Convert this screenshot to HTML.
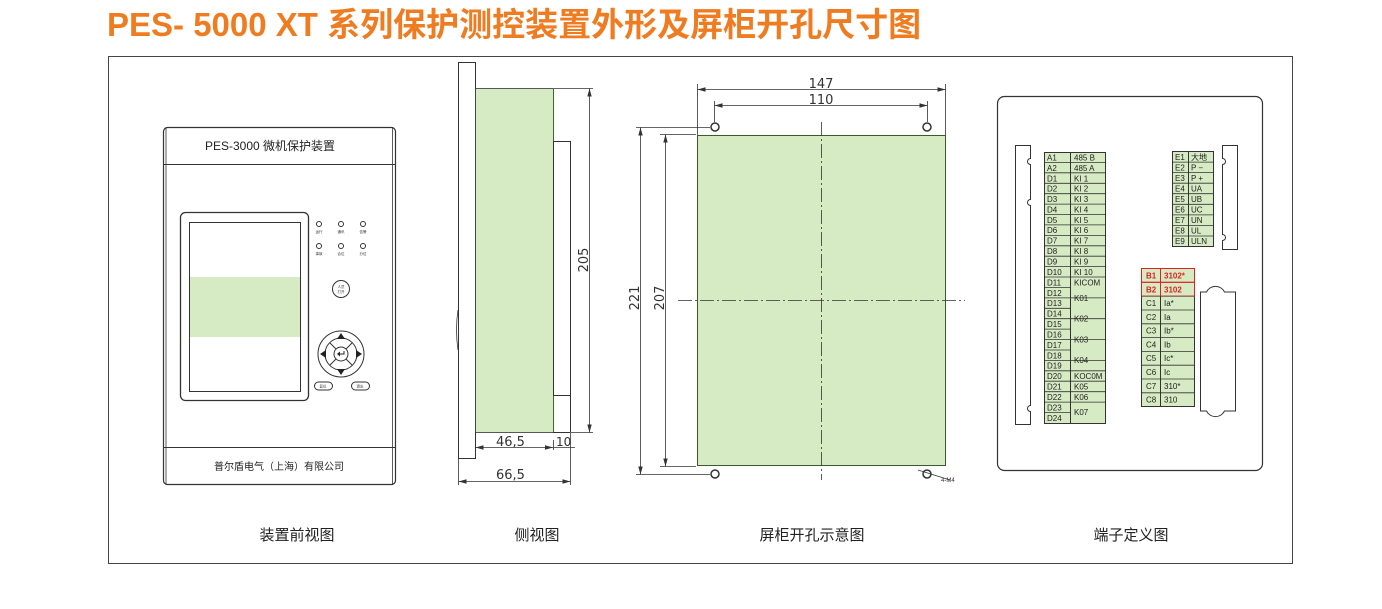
<!DOCTYPE html>
<html><head><meta charset="utf-8"><style>
html,body{margin:0;padding:0;background:#fff;}
body{width:1382px;height:609px;overflow:hidden;position:relative;}
svg{position:absolute;left:0;top:0;}
.t{font-family:"Liberation Sans","Noto Sans CJK SC",sans-serif;}
</style></head><body>
<svg width="1382" height="609" viewBox="0 0 1382 609" xmlns="http://www.w3.org/2000/svg" class="t">
<defs>
<marker id="ar" markerWidth="8" markerHeight="6" refX="8" refY="3" orient="auto-start-reverse" markerUnits="userSpaceOnUse"><path d="M0,0.8 L8,3 L0,5.2z" fill="#333"/></marker>
</defs>
<text x="107" y="36" font-size="33" font-weight="bold" fill="#f07c22" font-family="'Liberation Sans','Noto Sans CJK SC',sans-serif">PES- 5000 XT 系列保护测控装置外形及屏柜开孔尺寸图</text>
<rect x="108.5" y="56.5" width="1184" height="507" fill="none" stroke="#444" stroke-width="1"/>

<!-- FRONT VIEW -->
<rect x="163.5" y="127.5" width="232" height="357" rx="4" fill="#fff" stroke="#333" stroke-width="1.2"/>
<line x1="166" y1="127.5" x2="166" y2="484" stroke="#333" stroke-width="0.8"/>
<line x1="392.5" y1="127.5" x2="392.5" y2="484" stroke="#333" stroke-width="0.8"/>
<line x1="164" y1="164.5" x2="395" y2="164.5" stroke="#333"/>
<line x1="164" y1="447.5" x2="395" y2="447.5" stroke="#333"/>
<text x="270" y="150" font-size="12" text-anchor="middle" fill="#222">PES-3000 微机保护装置</text>
<text x="279" y="470" font-size="10" text-anchor="middle" fill="#222">普尔盾电气（上海）有限公司</text>
<rect x="180.5" y="212.5" width="128" height="188" rx="5" fill="#fff" stroke="#333" stroke-width="1.3"/>
<rect x="189.5" y="222.5" width="111" height="169" fill="#fff" stroke="#333" stroke-width="1"/>
<rect x="190" y="277" width="110" height="60" fill="#d6eac3"/>
<g fill="none" stroke="#333" stroke-width="1">
<circle cx="319" cy="224" r="2.5"/><circle cx="341" cy="224" r="2.5"/><circle cx="363" cy="224" r="2.5"/>
<circle cx="319" cy="246" r="2.5"/><circle cx="341" cy="246" r="2.5"/><circle cx="363" cy="246" r="2.5"/>
<circle cx="341" cy="289" r="8.5"/>
<circle cx="341" cy="354" r="23"/><circle cx="341" cy="354" r="7"/>
<circle cx="341" cy="354" r="16"/>
<line x1="330" y1="343" x2="336" y2="349"/><line x1="352" y1="343" x2="346" y2="349"/>
<line x1="330" y1="365" x2="336" y2="359"/><line x1="352" y1="365" x2="346" y2="359"/>
<rect x="314.5" y="382" width="18" height="8" rx="4"/><rect x="351.5" y="382" width="18" height="8" rx="4"/>
</g>
<g fill="#222"><path d="M341,333 l-4,6 h8z"/><path d="M341,375 l-4,-6 h8z"/><path d="M320,354 l6,-4 v8z"/><path d="M362,354 l-6,-4 v8z"/><path d="M337,354 l3,-2.5 v5z"/><path d="M340,354 h4 v-3" stroke="#222" fill="none"/></g>
<g font-size="3.5" fill="#333" text-anchor="middle">
<text x="319" y="233">运行</text><text x="341" y="233">通讯</text><text x="363" y="233">告警</text>
<text x="319" y="255">事故</text><text x="341" y="255">合位</text><text x="363" y="255">分位</text>
<text x="341" y="288">人员</text><text x="341" y="293">打开</text>
<text x="323" y="387.5">复位</text><text x="360" y="387.5">退出</text>
</g>

<!-- SIDE VIEW -->
<rect x="458.5" y="62.5" width="17" height="396" fill="#fff" stroke="#333"/>
<rect x="475.5" y="88.5" width="78" height="344" fill="#d6eac3" stroke="#333" stroke-width="0.8"/>
<line x1="553.5" y1="88.5" x2="553.5" y2="432.5" stroke="#3d6b2b"/>
<rect x="553.5" y="141.5" width="17" height="254" fill="#fff" stroke="#333"/>
<line x1="570.5" y1="395" x2="570.5" y2="432.5" stroke="#333"/>
<line x1="553" y1="432.5" x2="570.5" y2="432.5" stroke="#333"/>
<path d="M458,310 q-3,20 0,40" fill="none" stroke="#333" stroke-width="0.8"/>
<g stroke="#333" stroke-width="0.8" fill="none">
<line x1="554" y1="88.5" x2="593" y2="88.5"/><line x1="571" y1="432.5" x2="593" y2="432.5"/>
<line x1="589.5" y1="88.5" x2="589.5" y2="432.5" marker-start="url(#ar)" marker-end="url(#ar)"/>
<line x1="475.5" y1="433" x2="475.5" y2="450"/><line x1="570.5" y1="433" x2="570.5" y2="485"/><line x1="458.5" y1="459" x2="458.5" y2="485"/>
<line x1="475.5" y1="447.5" x2="553" y2="447.5" marker-start="url(#ar)" marker-end="url(#ar)"/>
<line x1="553.5" y1="440" x2="553.5" y2="450"/>
<line x1="553.5" y1="447.5" x2="575" y2="447.5"/>
<line x1="458.5" y1="481.5" x2="570.5" y2="481.5" marker-start="url(#ar)" marker-end="url(#ar)"/>
</g>
<g font-size="13" fill="#333" font-family="'DejaVu Sans',sans-serif">
<text x="496" y="446">46,5</text><text x="556" y="446" font-size="12">10</text><text x="496" y="479">66,5</text>
<text transform="translate(588,260) rotate(-90)" text-anchor="middle" font-size="13">205</text>
</g>

<!-- PANEL CUTOUT -->
<rect x="697.5" y="135.5" width="248" height="330" fill="#d6eac3" stroke="#3d5a2b" stroke-width="1"/>
<g stroke="#333" stroke-width="0.8" fill="none">
<line x1="821.5" y1="122" x2="821.5" y2="480" stroke-dasharray="14,3,2,3"/>
<line x1="678" y1="300.5" x2="965" y2="300.5" stroke-dasharray="14,3,2,3"/>
<line x1="697.5" y1="84" x2="697.5" y2="135"/><line x1="945.5" y1="84" x2="945.5" y2="135"/>
<line x1="697.5" y1="89.5" x2="945.5" y2="89.5" marker-start="url(#ar)" marker-end="url(#ar)"/>
<line x1="714.5" y1="101" x2="714.5" y2="122"/><line x1="927.5" y1="101" x2="927.5" y2="122"/>
<line x1="714.5" y1="105.5" x2="927.5" y2="105.5" marker-start="url(#ar)" marker-end="url(#ar)"/>
<line x1="636" y1="127.5" x2="710" y2="127.5"/><line x1="636" y1="474.5" x2="710" y2="474.5"/>
<line x1="640.5" y1="127.5" x2="640.5" y2="474.5" marker-start="url(#ar)" marker-end="url(#ar)"/>
<line x1="660" y1="134.5" x2="696" y2="134.5"/><line x1="660" y1="466.5" x2="696" y2="466.5"/>
<line x1="665.5" y1="134.5" x2="665.5" y2="466.5" marker-start="url(#ar)" marker-end="url(#ar)"/>
<g stroke-width="1.5"><circle cx="715" cy="127" r="4"/><circle cx="927" cy="127" r="4"/><circle cx="715" cy="474" r="4"/><circle cx="927" cy="474" r="4"/></g>
<line x1="918" y1="470" x2="950" y2="480"/>
</g>
<text x="941" y="482" font-size="6" fill="#333">4-M4</text>
<g font-size="13" fill="#333" font-family="'DejaVu Sans',sans-serif" text-anchor="middle">
<text x="821" y="88">147</text><text x="821" y="104">110</text>
<text transform="translate(639,298) rotate(-90)">221</text>
<text transform="translate(664,298) rotate(-90)">207</text>
</g>

<!-- TERMINALS -->
<rect x="997.5" y="96.5" width="265" height="374" rx="7" fill="#fff" stroke="#333" stroke-width="1.2"/>
<g fill="none" stroke="#333" stroke-width="1">
<path d="M1015.5,145.5 h15 v13 a3,3 0 0 0 0,6 v35 a3,3 0 0 0 0,6 v200 a3,3 0 0 0 0,6 v13 h-15z"/>
<path d="M1237.5,145.5 h-15 v13 a3,3 0 0 1 0,6 v70 a3,3 0 0 1 0,6 v9 h15z"/>
<path d="M1200.5,292 h6 a10,10 0 0 1 18,0 h11 v119 h-11 a10,10 0 0 1 -18,0 h-6z"/>
</g>
<!-- left table -->
<rect x="1044.5" y="152.5" width="61" height="271" fill="#d6eac3" stroke="#333"/>
<line x1="1070.5" y1="152" x2="1070.5" y2="423" stroke="#333"/>
<g stroke="#333" stroke-width="0.8">
<line x1="1044" y1="162.5" x2="1105" y2="162.5"/><line x1="1044" y1="172.8" x2="1105" y2="172.8"/><line x1="1044" y1="183.3" x2="1105" y2="183.3"/><line x1="1044" y1="193.7" x2="1105" y2="193.7"/><line x1="1044" y1="204.1" x2="1105" y2="204.1"/><line x1="1044" y1="214.5" x2="1105" y2="214.5"/><line x1="1044" y1="224.9" x2="1105" y2="224.9"/><line x1="1044" y1="235.4" x2="1105" y2="235.4"/><line x1="1044" y1="245.8" x2="1105" y2="245.8"/><line x1="1044" y1="256.2" x2="1105" y2="256.2"/><line x1="1044" y1="266.6" x2="1105" y2="266.6"/><line x1="1044" y1="277" x2="1105" y2="277"/><line x1="1044" y1="287.5" x2="1070" y2="287.5"/><line x1="1044" y1="297.9" x2="1105" y2="297.9"/><line x1="1044" y1="308.3" x2="1070" y2="308.3"/><line x1="1044" y1="318.7" x2="1105" y2="318.7"/><line x1="1044" y1="329.1" x2="1070" y2="329.1"/><line x1="1044" y1="339.6" x2="1105" y2="339.6"/><line x1="1044" y1="350" x2="1070" y2="350"/><line x1="1044" y1="360.4" x2="1105" y2="360.4"/><line x1="1044" y1="370.8" x2="1105" y2="370.8"/><line x1="1044" y1="381.2" x2="1105" y2="381.2"/><line x1="1044" y1="391.7" x2="1105" y2="391.7"/><line x1="1044" y1="402.1" x2="1105" y2="402.1"/><line x1="1044" y1="412.5" x2="1070" y2="412.5"/>
</g>
<g font-size="8" fill="#222">
<text x="1047" y="160.5">A1</text><text x="1047" y="171">A2</text><text x="1047" y="181.3">D1</text><text x="1047" y="191.6">D2</text><text x="1047" y="202">D3</text><text x="1047" y="212.4">D4</text><text x="1047" y="222.8">D5</text><text x="1047" y="233.2">D6</text><text x="1047" y="243.7">D7</text><text x="1047" y="254.1">D8</text><text x="1047" y="264.5">D9</text><text x="1047" y="274.9">D10</text><text x="1047" y="285.3">D11</text><text x="1047" y="295.8">D12</text><text x="1047" y="306.2">D13</text><text x="1047" y="316.6">D14</text><text x="1047" y="327">D15</text><text x="1047" y="337.4">D16</text><text x="1047" y="347.9">D17</text><text x="1047" y="358.3">D18</text><text x="1047" y="368.7">D19</text><text x="1047" y="379.1">D20</text><text x="1047" y="389.5">D21</text><text x="1047" y="400">D22</text><text x="1047" y="410.4">D23</text><text x="1047" y="420.8">D24</text>
<text x="1074" y="160.5">485 B</text><text x="1074" y="171">485 A</text><text x="1074" y="181.3">KI 1</text><text x="1074" y="191.6">KI 2</text><text x="1074" y="202">KI 3</text><text x="1074" y="212.4">KI 4</text><text x="1074" y="222.8">KI 5</text><text x="1074" y="233.2">KI 6</text><text x="1074" y="243.7">KI 7</text><text x="1074" y="254.1">KI 8</text><text x="1074" y="264.5">KI 9</text><text x="1074" y="274.9">KI 10</text><text x="1074" y="285.3">KICOM</text>
<text x="1074" y="301">K01</text><text x="1074" y="321.5">K02</text><text x="1074" y="342.5">K03</text><text x="1074" y="363">K04</text><text x="1074" y="379.1">KOC0M</text><text x="1074" y="389.5">K05</text><text x="1074" y="400">K06</text><text x="1074" y="415">K07</text>
</g>
<!-- E table -->
<rect x="1172.5" y="151.5" width="41" height="95" fill="#d6eac3" stroke="#333"/>
<line x1="1188.5" y1="151" x2="1188.5" y2="246" stroke="#333"/>
<g stroke="#333" stroke-width="0.8">
<line x1="1172" y1="162.1" x2="1213" y2="162.1"/><line x1="1172" y1="172.6" x2="1213" y2="172.6"/><line x1="1172" y1="183.2" x2="1213" y2="183.2"/><line x1="1172" y1="193.7" x2="1213" y2="193.7"/><line x1="1172" y1="204.3" x2="1213" y2="204.3"/><line x1="1172" y1="214.9" x2="1213" y2="214.9"/><line x1="1172" y1="225.4" x2="1213" y2="225.4"/><line x1="1172" y1="236" x2="1213" y2="236"/>
</g>
<g font-size="8" fill="#222">
<text x="1175" y="159.8">E1</text><text x="1175" y="170.3">E2</text><text x="1175" y="180.9">E3</text><text x="1175" y="191.4">E4</text><text x="1175" y="202">E5</text><text x="1175" y="212.6">E6</text><text x="1175" y="223.1">E7</text><text x="1175" y="233.7">E8</text><text x="1175" y="244.2">E9</text>
<text x="1191" y="159.8">大地</text><text x="1191" y="170.3">P −</text><text x="1191" y="180.9">P +</text><text x="1191" y="191.4">UA</text><text x="1191" y="202">UB</text><text x="1191" y="212.6">UC</text><text x="1191" y="223.1">UN</text><text x="1191" y="233.7">UL</text><text x="1191" y="244.2">ULN</text>
</g>
<!-- B/C table -->
<rect x="1141.5" y="268.5" width="53" height="138" fill="#d6eac3" stroke="#333"/>
<line x1="1160.5" y1="268" x2="1160.5" y2="406" stroke="#333"/>
<g stroke="#333" stroke-width="0.8">
<line x1="1141" y1="310" x2="1194" y2="310"/><line x1="1141" y1="323.8" x2="1194" y2="323.8"/><line x1="1141" y1="337.6" x2="1194" y2="337.6"/><line x1="1141" y1="351.4" x2="1194" y2="351.4"/><line x1="1141" y1="365.2" x2="1194" y2="365.2"/><line x1="1141" y1="379" x2="1194" y2="379"/><line x1="1141" y1="392.8" x2="1194" y2="392.8"/>
</g>
<rect x="1141.5" y="268.5" width="53" height="13.8" fill="none" stroke="#e02020"/>
<rect x="1141.5" y="282.3" width="53" height="13.8" fill="none" stroke="#e02020"/>
<line x1="1160.5" y1="268.5" x2="1160.5" y2="296" stroke="#e02020"/>
<line x1="1141" y1="296.2" x2="1194" y2="296.2" stroke="#333" stroke-width="0.5"/>
<g font-size="8" fill="#222">
<text x="1146" y="278.5" fill="#e02020" font-weight="bold">B1</text><text x="1164" y="278.5" fill="#e02020" font-weight="bold">3102*</text>
<text x="1146" y="292.3" fill="#e02020" font-weight="bold">B2</text><text x="1164" y="292.3" fill="#e02020" font-weight="bold">3102</text>
<text x="1146" y="306">C1</text><text x="1164" y="306">Ia*</text>
<text x="1146" y="319.8">C2</text><text x="1164" y="319.8">Ia</text>
<text x="1146" y="333.6">C3</text><text x="1164" y="333.6">Ib*</text>
<text x="1146" y="347.4">C4</text><text x="1164" y="347.4">Ib</text>
<text x="1146" y="361.2">C5</text><text x="1164" y="361.2">Ic*</text>
<text x="1146" y="375">C6</text><text x="1164" y="375">Ic</text>
<text x="1146" y="388.8">C7</text><text x="1164" y="388.8">310*</text>
<text x="1146" y="402.6">C8</text><text x="1164" y="402.6">310</text>
</g>

<!-- captions -->
<g font-size="15" fill="#222" text-anchor="middle">
<text x="297" y="540">装置前视图</text><text x="537" y="540">侧视图</text><text x="812" y="540">屏柜开孔示意图</text><text x="1131" y="540">端子定义图</text>
</g>
</svg>
</body></html>
